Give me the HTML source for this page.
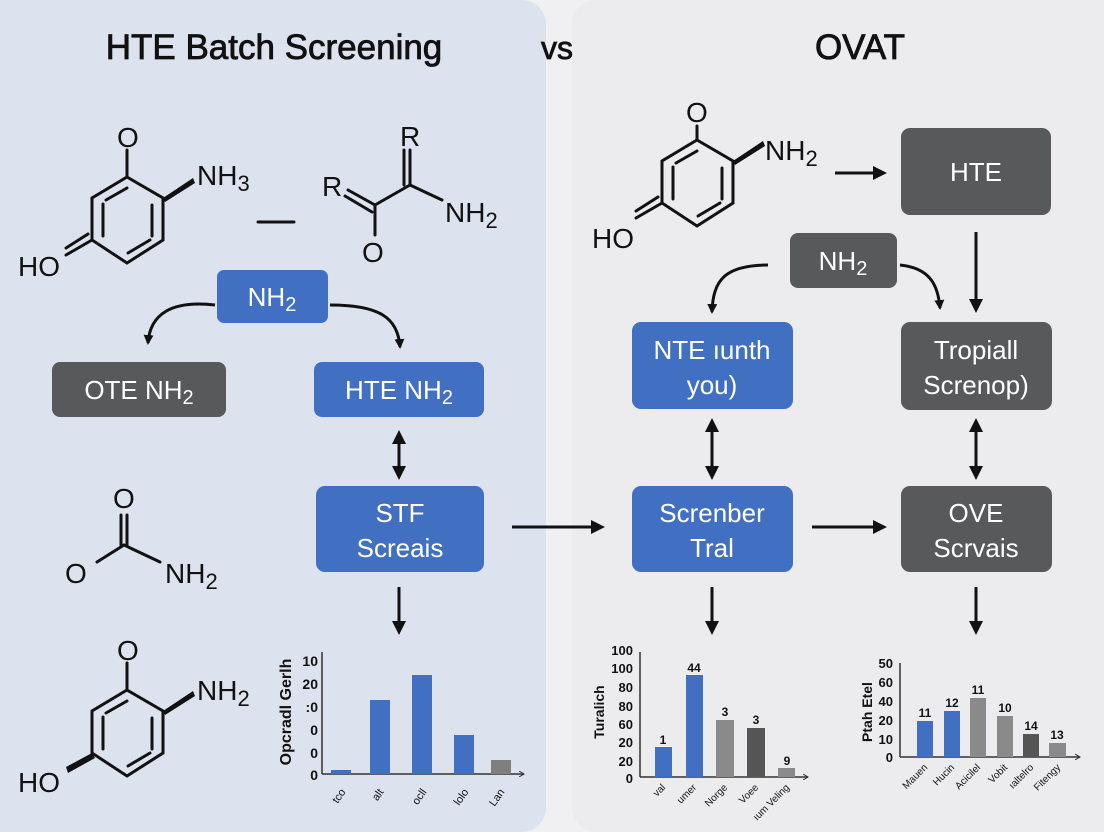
<!DOCTYPE html>
<html><head><meta charset="utf-8"><style>
html,body{margin:0;padding:0;width:1104px;height:832px;overflow:hidden;background:#f0f0f2}
svg{display:block}
text{font-family:"Liberation Sans",Arial,sans-serif}
</style></head><body>
<svg width="1104" height="832" viewBox="0 0 1104 832" xmlns="http://www.w3.org/2000/svg">
<defs>
<marker id="ah" markerWidth="10" markerHeight="10" refX="8" refY="5" orient="auto" markerUnits="userSpaceOnUse"><path d="M0,0 L10,5 L0,10 Z" fill="#111"/></marker>
<marker id="ah2" markerWidth="14" markerHeight="14" refX="10" refY="7" orient="auto-start-reverse" markerUnits="userSpaceOnUse"><path d="M0,0 L14,7 L0,14 Z" fill="#111"/></marker>
<marker id="ax" markerWidth="6" markerHeight="6" refX="5" refY="3" orient="auto" markerUnits="userSpaceOnUse"><path d="M0,0 L5,3 L0,6" fill="none" stroke="#333"/></marker>
</defs>
<rect x="0" y="0" width="1104" height="832" fill="#f0f0f2"/>
<rect x="-30" y="0" width="576" height="832" rx="24" fill="#dde3ee"/>
<rect x="572" y="0" width="560" height="832" rx="24" fill="#ececee"/>

<!-- titles -->
<text x="274" y="59" font-size="35" text-anchor="middle" fill="#111" stroke="#111" stroke-width="0.8">HTE Batch Screening</text>
<text x="557" y="59" font-size="32" text-anchor="middle" fill="#111" stroke="#111" stroke-width="0.8">vs</text>
<text x="860" y="59" font-size="35" text-anchor="middle" fill="#111" stroke="#111" stroke-width="0.8">OVAT</text>

<g stroke="#111" stroke-width="3" fill="none" stroke-linecap="round">
<polygon points="127,177 163,198 163,240 127,263 92,240 92,198"/>
<line x1="103" y1="236" x2="103" y2="204"/><line x1="106" y1="200" x2="127" y2="188"/><line x1="152" y1="205" x2="152" y2="236"/><line x1="150" y1="240" x2="128" y2="253"/>
<line x1="127" y1="177" x2="127" y2="150"/>
<line x1="92" y1="240" x2="66" y2="255"/><line x1="88" y1="234" x2="66" y2="248"/>
<line x1="258" y1="222" x2="294" y2="222"/>
<line x1="348" y1="190" x2="375" y2="205"/><line x1="345" y1="196" x2="372" y2="212"/>
<line x1="375" y1="205" x2="410" y2="185"/>
<line x1="410" y1="185" x2="410" y2="150"/><line x1="404" y1="185" x2="404" y2="150"/>
<line x1="410" y1="185" x2="442" y2="200"/>
<line x1="375" y1="205" x2="375" y2="235"/>
<line x1="127" y1="515" x2="127" y2="545"/><line x1="121" y1="515" x2="121" y2="545"/>
<line x1="124" y1="545" x2="97" y2="562"/><line x1="124" y1="545" x2="160" y2="562"/>
<polygon points="127,690 163,711 163,753 127,776 92,753 92,711"/>
<line x1="103" y1="749" x2="103" y2="717"/><line x1="106" y1="713" x2="127" y2="701"/><line x1="152" y1="718" x2="152" y2="749"/><line x1="150" y1="753" x2="128" y2="766"/>
<line x1="127" y1="690" x2="127" y2="663"/>
<polygon points="697,140 733,161 733,203 697,226 662,203 662,161"/>
<line x1="673" y1="199" x2="673" y2="167"/><line x1="676" y1="163" x2="697" y2="151"/><line x1="722" y1="168" x2="722" y2="199"/><line x1="720" y1="203" x2="698" y2="216"/>
<line x1="697" y1="140" x2="697" y2="126"/>
<line x1="662" y1="203" x2="636" y2="218"/><line x1="658" y1="197" x2="636" y2="211"/>
</g>
<polygon points="163,198 193,178 195,183 165,202" fill="#111"/>
<polygon points="163,711 193,691 195,696 165,715" fill="#111"/>
<polygon points="92,753 66,767 68,773 95,758" fill="#111"/>
<polygon points="733,161 763,141 765,146 735,165" fill="#111"/>
<g fill="#111" font-size="28">
<text x="117" y="147">O</text>
<text x="197" y="185">NH<tspan font-size="22" dy="6">3</tspan></text>
<text x="18" y="276">HO</text>
<text x="400" y="146">R</text>
<text x="322" y="196">R</text>
<text x="445" y="222">NH<tspan font-size="22" dy="6">2</tspan></text>
<text x="362" y="262">O</text>
<text x="113" y="508">O</text>
<text x="65" y="583">O</text>
<text x="165" y="583">NH<tspan font-size="22" dy="6">2</tspan></text>
<text x="117" y="660">O</text>
<text x="197" y="700">NH<tspan font-size="22" dy="6">2</tspan></text>
<text x="18" y="792">HO</text>
<text x="686" y="122">O</text>
<text x="765" y="160">NH<tspan font-size="22" dy="6">2</tspan></text>
<text x="592" y="248">HO</text>
</g>

<g font-size="26" text-anchor="middle">
<rect x="217" y="270" width="111" height="53" rx="7" fill="#4170c2"/><text x="272" y="306" fill="#fff">NH<tspan font-size="20" dy="5">2</tspan></text>
<rect x="52" y="362" width="174" height="55" rx="8" fill="#58595b"/><text x="139" y="399" fill="#fff">OTE NH<tspan font-size="20" dy="5">2</tspan></text>
<rect x="314" y="362" width="170" height="55" rx="8" fill="#4170c2"/><text x="399" y="399" fill="#fff">HTE NH<tspan font-size="20" dy="5">2</tspan></text>
<rect x="316" y="486" width="168" height="86" rx="9" fill="#4170c2"/><text x="400" y="522" fill="#fff">STF</text><text x="400" y="557" fill="#fff">Screais</text>
<rect x="632" y="322" width="161" height="87" rx="9" fill="#4170c2"/><text x="712" y="359" fill="#fff">NTE ıunth</text><text x="712" y="394" fill="#fff">you)</text>
<rect x="632" y="486" width="161" height="86" rx="9" fill="#4170c2"/><text x="712" y="522" fill="#fff">Screnber</text><text x="712" y="557" fill="#fff">Tral</text>
<rect x="901" y="128" width="150" height="87" rx="9" fill="#58595b"/><text x="976" y="181" fill="#fff">HTE</text>
<rect x="790" y="233" width="107" height="55" rx="8" fill="#58595b"/><text x="843" y="270" fill="#fff">NH<tspan font-size="20" dy="5">2</tspan></text>
<rect x="901" y="322" width="151" height="88" rx="9" fill="#58595b"/><text x="976" y="359" fill="#fff">Tropiall</text><text x="976" y="394" fill="#fff">Screnop)</text>
<rect x="901" y="486" width="151" height="86" rx="9" fill="#58595b"/><text x="976" y="522" fill="#fff">OVE</text><text x="976" y="557" fill="#fff">Scrvais</text>
</g>

<g stroke="#111" stroke-width="3" fill="none">
<path d="M215,305 C170,300 150,315 148,343" marker-end="url(#ah)"/>
<path d="M330,305 C380,305 398,318 400,347" marker-end="url(#ah)"/>
<path d="M768,265 C725,265 713,280 712,312" marker-end="url(#ah)"/>
<path d="M900,265 C930,268 938,285 940,308" marker-end="url(#ah)"/>
<line x1="399" y1="434" x2="399" y2="476" marker-start="url(#ah2)" marker-end="url(#ah2)"/>
<line x1="712" y1="422" x2="712" y2="476" marker-start="url(#ah2)" marker-end="url(#ah2)"/>
<line x1="976" y1="422" x2="976" y2="476" marker-start="url(#ah2)" marker-end="url(#ah2)"/>
<line x1="399" y1="587" x2="399" y2="631" marker-end="url(#ah2)"/>
<line x1="712" y1="587" x2="712" y2="631" marker-end="url(#ah2)"/>
<line x1="976" y1="587" x2="976" y2="631" marker-end="url(#ah2)"/>
<line x1="512" y1="527" x2="601" y2="527" marker-end="url(#ah2)"/>
<line x1="812" y1="527" x2="883" y2="527" marker-end="url(#ah2)"/>
<line x1="835" y1="173" x2="883" y2="173" marker-end="url(#ah2)"/>
<line x1="976" y1="232" x2="976" y2="309" marker-end="url(#ah2)"/>
</g>

<g font-size="13" font-weight="bold" fill="#111">
<line x1="322" y1="652" x2="322" y2="774" stroke="#333" stroke-width="1.5"/>
<line x1="322" y1="774" x2="524" y2="774" stroke="#333" stroke-width="1.5" marker-end="url(#ax)"/>
<g text-anchor="end" font-size="14"><text x="318" y="666">10</text><text x="318" y="689">20</text><text x="318" y="712">:0</text><text x="318" y="735">0</text><text x="318" y="758">0</text><text x="318" y="780">0</text></g>
<text transform="translate(291,712) rotate(-90)" text-anchor="middle" font-size="16">Opcradl Gerlh</text>
<rect x="331" y="770" width="20" height="4" fill="#4170c2"/>
<rect x="370" y="700" width="20" height="74" fill="#4170c2"/>
<rect x="412" y="675" width="20" height="99" fill="#4170c2"/>
<rect x="454" y="735" width="20" height="39" fill="#4170c2"/>
<rect x="491" y="760" width="20" height="14" fill="#7f7f7f"/>
<g font-size="11" font-weight="normal"><text transform="translate(346,792) rotate(-55)" text-anchor="end">tco</text><text transform="translate(384,792) rotate(-55)" text-anchor="end">alt</text><text transform="translate(427,792) rotate(-55)" text-anchor="end">ocll</text><text transform="translate(469,792) rotate(-55)" text-anchor="end">lolo</text><text transform="translate(505,792) rotate(-55)" text-anchor="end">Lan</text></g>
</g>

<g font-size="13" font-weight="bold" fill="#111">
<line x1="640" y1="652" x2="640" y2="777" stroke="#333" stroke-width="1.5"/>
<line x1="640" y1="777" x2="808" y2="777" stroke="#333" stroke-width="1.5" marker-end="url(#ax)"/>
<g text-anchor="end"><text x="633" y="655">100</text><text x="633" y="673">100</text><text x="633" y="692">80</text><text x="633" y="711">80</text><text x="633" y="729">60</text><text x="633" y="747">20</text><text x="633" y="766">20</text><text x="633" y="783">0</text></g>
<text transform="translate(604,712) rotate(-90)" text-anchor="middle" font-size="14">Turalich</text>
<rect x="655" y="747" width="17" height="30" fill="#4170c2"/>
<rect x="686" y="675" width="17" height="102" fill="#4170c2"/>
<rect x="716" y="720" width="18" height="57" fill="#8a8a8a"/>
<rect x="747" y="728" width="18" height="49" fill="#555"/>
<rect x="778" y="768" width="17" height="9" fill="#8a8a8a"/>
<g text-anchor="middle" font-size="12"><text x="663" y="744">1</text><text x="694" y="672">44</text><text x="725" y="716">3</text><text x="756" y="724">3</text><text x="787" y="765">9</text></g>
<g font-size="10" font-weight="normal"><text transform="translate(666,788) rotate(-45)" text-anchor="end">val</text><text transform="translate(697,788) rotate(-45)" text-anchor="end">umer</text><text transform="translate(728,788) rotate(-45)" text-anchor="end">Norge</text><text transform="translate(759,788) rotate(-45)" text-anchor="end">Voee</text><text transform="translate(790,788) rotate(-45)" text-anchor="end">ıum Veling</text></g>
</g>

<g font-size="13" font-weight="bold" fill="#111">
<line x1="900" y1="663" x2="900" y2="757" stroke="#333" stroke-width="1.5"/>
<line x1="900" y1="757" x2="1080" y2="757" stroke="#333" stroke-width="1.5" marker-end="url(#ax)"/>
<g text-anchor="end"><text x="893" y="668">50</text><text x="893" y="687">60</text><text x="893" y="706">40</text><text x="893" y="725">20</text><text x="893" y="744">10</text><text x="893" y="762">0</text></g>
<text transform="translate(872,712) rotate(-90)" text-anchor="middle" font-size="14">Ptah Etel</text>
<rect x="917" y="721" width="16" height="36" fill="#4170c2"/>
<rect x="944" y="711" width="16" height="46" fill="#4170c2"/>
<rect x="970" y="698" width="16" height="59" fill="#8a8a8a"/>
<rect x="997" y="716" width="16" height="41" fill="#8a8a8a"/>
<rect x="1023" y="734" width="16" height="23" fill="#555"/>
<rect x="1049" y="743" width="17" height="14" fill="#8a8a8a"/>
<g text-anchor="middle" font-size="12"><text x="925" y="717">11</text><text x="952" y="707">12</text><text x="978" y="694">11</text><text x="1005" y="712">10</text><text x="1031" y="730">14</text><text x="1057" y="739">13</text></g>
<g font-size="10" font-weight="normal"><text transform="translate(928,768) rotate(-45)" text-anchor="end">Mauen</text><text transform="translate(955,768) rotate(-45)" text-anchor="end">Hucin</text><text transform="translate(981,768) rotate(-45)" text-anchor="end">Acicilel</text><text transform="translate(1008,768) rotate(-45)" text-anchor="end">Vobit</text><text transform="translate(1034,768) rotate(-45)" text-anchor="end">ıaltelro</text><text transform="translate(1061,768) rotate(-45)" text-anchor="end">Fitengy</text></g>
</g>
</svg>
</body></html>
